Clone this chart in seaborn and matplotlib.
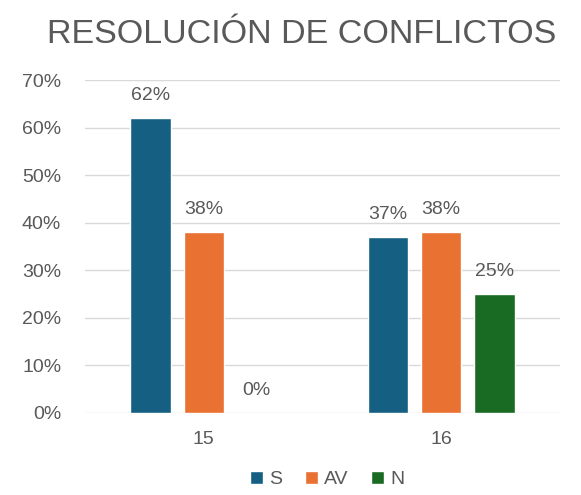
import matplotlib
matplotlib.use("Agg")
import matplotlib.pyplot as plt
import pandas as pd
import seaborn as sns

categories = ["15", "16"]
series = ["S", "AV", "N"]
s_values = [62, 37]
av_values = [38, 38]
n_values = [0, 25]
colors = ["#156082", "#E97132", "#196B24"]

rows = []
for i, cat in enumerate(categories):
    for name, vals in zip(series, [s_values, av_values, n_values]):
        rows.append({"grupo": cat, "serie": name, "valor": vals[i]})
df = pd.DataFrame(rows)

sns.set_style("white")
plt.rcParams["font.family"] = ["Liberation Sans", "DejaVu Sans"]
gray = "#595959"
fs = 14

fig = plt.figure(figsize=(5.81, 4.95), dpi=100)
ax = fig.add_axes([0.146, 0.166, 0.818, 0.672])

sns.barplot(data=df, x="grupo", y="valor", hue="serie", order=categories,
            hue_order=series, palette=colors, width=0.672, gap=0.245,
            saturation=1, ax=ax, legend=True)

for cont in ax.containers:
    ax.bar_label(cont, labels=[f"{v:.0f}%" for v in cont.datavalues],
                 padding=10, fontsize=fs, color=gray)

ax.set_ylim(0, 70)
ax.set_xlim(-0.5, 1.5)
ax.set_yticks(range(0, 71, 10))
ax.set_yticklabels([f"{t}%" for t in range(0, 71, 10)])
ax.yaxis.grid(True, color="#D9D9D9", linewidth=1)
ax.set_axisbelow(True)
for sp in ax.spines.values():
    sp.set_visible(False)
ax.tick_params(axis="y", length=0, pad=17, labelsize=fs, labelcolor=gray)
ax.tick_params(axis="x", length=0, pad=13, labelsize=fs, labelcolor=gray)
ax.set_xlabel("")
ax.set_ylabel("")

fig.suptitle("RESOLUCIÓN DE CONFLICTOS", x=0.52, y=0.962, fontsize=24.5,
             color=gray)

leg = ax.legend(loc="upper center", bbox_to_anchor=(0.51, -0.14), ncol=3,
                frameon=False, fontsize=fs, handlelength=0.65,
                handleheight=0.65, handletextpad=0.3, columnspacing=1.2,
                borderaxespad=0.2)
for t in leg.get_texts():
    t.set_color(gray)

fig.savefig("out.png", dpi=100)
